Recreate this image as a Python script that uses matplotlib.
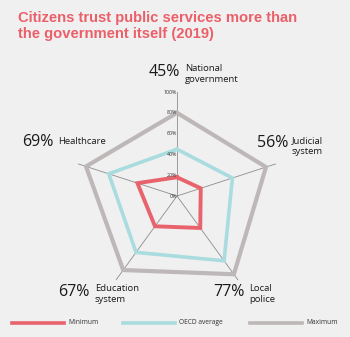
import numpy as np
import matplotlib
matplotlib.use("Agg")
import matplotlib.pyplot as plt

categories = ["National\ngovernment", "Judicial\nsystem", "Local\npolice", "Education\nsystem", "Healthcare"]
minimum = [18, 24, 38, 36, 40]
oecd_average = [45, 56, 77, 67, 69]
maximum = [80, 90, 93, 88, 92]
r_ticks = [0, 20, 40, 60, 80, 100]

W, H = 350, 337
bg = "#f0f0f0"
fig = plt.figure(figsize=(W / 100, H / 100), dpi=100, facecolor=bg)


def px(x, y):
    return x / W, 1 - y / H


cx, cy, R = 177, 196, 104
ax = fig.add_axes([(cx - R) / W, (H - cy - R) / H, 2 * R / W, 2 * R / H], projection="polar")
ax.set_facecolor("none")
ax.set_theta_offset(np.pi / 2)
ax.set_theta_direction(-1)
ax.set_ylim(0, 100)
ax.axis("off")

n = len(categories)
theta = np.arange(n) * 2 * np.pi / n

# spokes
for t in theta:
    ax.plot([t, t], [0, 100], color="#8c8c8c", lw=0.6, zorder=1)

tc = np.append(theta, theta[0])


def closed(v):
    return v + v[:1]


ax.plot(tc, closed(maximum), color="#bdb7b8", lw=3, zorder=2, solid_joinstyle="miter")
ax.plot(tc, closed(oecd_average), color="#a9dcdf", lw=2.6, zorder=3, solid_joinstyle="miter")
ax.plot(tc, closed(minimum), color="#e8636c", lw=2.8, zorder=4, solid_joinstyle="miter")

for r in r_ticks:
    ax.text(0, r, f"{r}%", ha="right", va="center", fontsize=3.8, color="#333333",
            family="Open Sans", zorder=5, transform=ax.transData)

# title
fig.text(*px(18, 11), "Citizens trust public services more than\nthe government itself (2019)",
         ha="left", va="top", fontsize=10.6, fontweight="bold", color="#eb5f69",
         family="Liberation Sans", linespacing=1.15)

# category labels: value and name
label_pos = [
    (180, 72, 185, 74),
    (288, 143, 292, 146),
    (245, 292, 249, 294),
    (90, 292, 95, 294),
    (53, 142, 58, 141),
]
for (vx, vy, nx, ny), val, name in zip(label_pos, oecd_average, categories):
    fig.text(*px(vx, vy), f"{val}%", ha="right", va="center", fontsize=11.5,
             family="Open Sans", color="#1a1a1a")
    fig.text(*px(nx, ny), name, ha="left", va="center", fontsize=6.8,
             family="Open Sans", color="#1a1a1a", linespacing=1.3)

# legend
legend_items = [("Minimum", "#e8636c", 12), ("OECD average", "#a9dcdf", 123), ("Maximum", "#bdb7b8", 250)]
for name, color, x0 in legend_items:
    fig.add_artist(plt.Line2D([x0 / W, (x0 + 52) / W], [1 - 323 / H] * 2, color=color, lw=2.6))
    fig.text(*px(x0 + 56, 322), name, ha="left", va="center", fontsize=4.8,
             family="Open Sans", color="#333333")

fig.savefig("out.png", dpi=100, facecolor=bg)
